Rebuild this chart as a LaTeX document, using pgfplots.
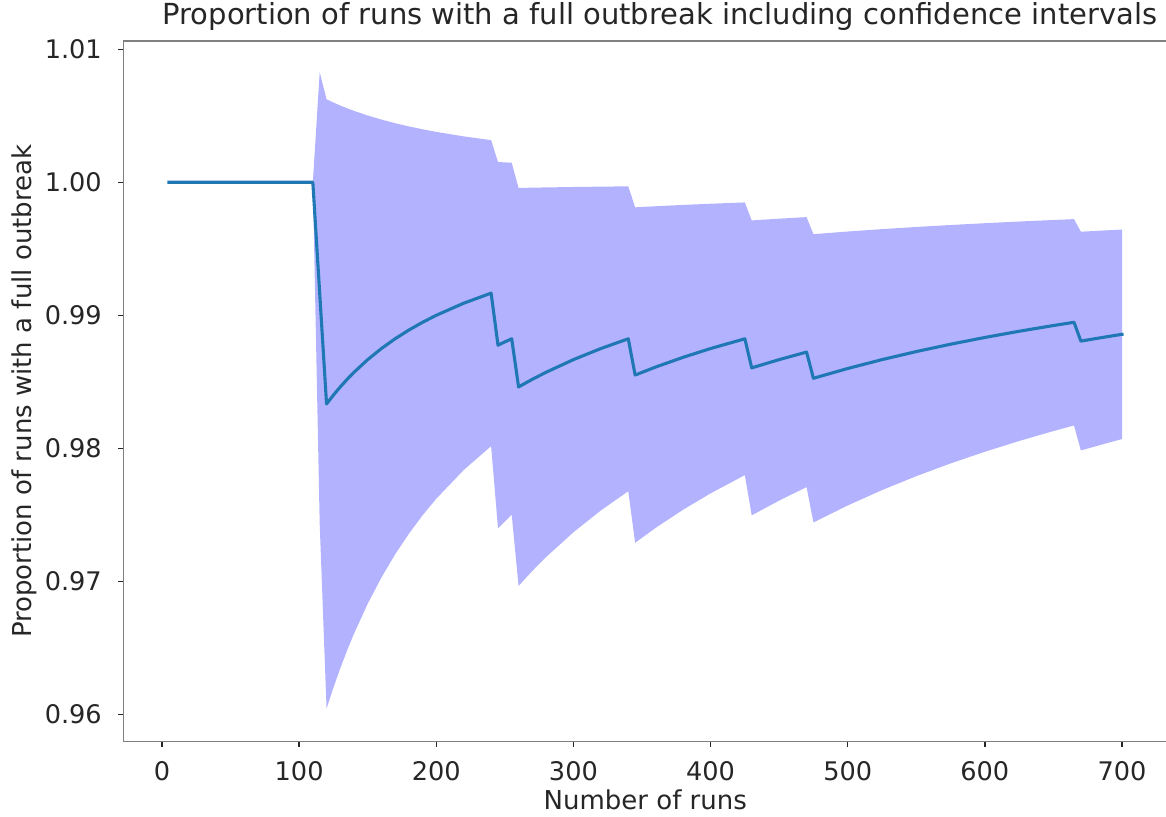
\documentclass[border=0pt]{standalone}
\usepackage{fontspec}
\setmainfont{DejaVu Sans}
\usepackage{pgfplots}
\usepackage{pgfplotstable}
\pgfplotsset{compat=1.18}
\usepgfplotslibrary{fillbetween}
\definecolor{tabblue}{HTML}{1F77B4}
\definecolor{txt}{HTML}{262626}
\definecolor{spine}{HTML}{808080}

\pgfplotstableread{
x p
5 1.0
110 1.0
120 0.983333
125 0.984
130 0.984615
135 0.985185
140 0.985714
150 0.986667
160 0.9875
170 0.988235
180 0.988889
190 0.989474
200 0.99
220 0.990909
240 0.991667
245 0.987755
250 0.988
255 0.988235
260 0.984615
270 0.985185
280 0.985714
300 0.986667
320 0.9875
340 0.988235
345 0.985507
360 0.986111
380 0.986842
400 0.9875
425 0.988235
430 0.986047
450 0.986667
470 0.987234
475 0.985263
500 0.986
525 0.986667
550 0.987273
575 0.987826
600 0.988333
625 0.9888
650 0.989231
665 0.989474
670 0.988060
685 0.988321
700 0.988571
}\proptable

\pgfplotstableread{
x u l
110 1.0 1.0
115 1.008275 0.974333
120 1.006240 0.960427
125 1.005997 0.962003
130 1.005773 0.963457
135 1.005565 0.964805
140 1.005371 0.966057
150 1.005022 0.968312
160 1.004715 0.970285
170 1.004444 0.972026
180 1.004202 0.973576
190 1.003986 0.974962
200 1.003790 0.976210
220 1.003451 0.978367
240 1.003168 0.980166
245 1.001527 0.973983
250 1.001498 0.974502
255 1.001470 0.975001
260 0.999576 0.969655
270 0.999596 0.970775
280 0.999614 0.971815
300 0.999646 0.973687
320 0.999673 0.975327
340 0.999696 0.976774
345 0.998118 0.972896
360 0.998200 0.974022
380 0.998299 0.975385
400 0.998388 0.976612
425 0.998486 0.977984
430 0.997134 0.974960
450 0.997265 0.976069
470 0.997383 0.977085
475 0.996099 0.974427
500 0.996298 0.975702
525 0.996478 0.976856
550 0.996641 0.977905
575 0.996789 0.978863
600 0.996925 0.979741
625 0.997050 0.980550
650 0.997166 0.981296
665 0.997231 0.981717
670 0.996285 0.979835
685 0.996367 0.980275
700 0.996445 0.980697
}\citable

\begin{document}
\begin{tikzpicture}
\begin{axis}[
  scale only axis,
  width=1044pt, height=700.5pt,
  xmin=-28.2, xmax=733,
  ymin=0.957955, ymax=1.010624,
  xtick={0,100,200,300,400,500,600,700},
  ytick={0.96,0.97,0.98,0.99,1.00,1.01},
  scaled y ticks=false,
  yticklabel style={xshift=-13pt, /pgf/number format/.cd,fixed,fixed zerofill,precision=2},
  xticklabel style={yshift=-11pt},
  /pgf/number format/assume math mode=true,
  axis line style={spine, line width=1.5pt},
  tick style={txt, line width=1.5pt},
  tick align=outside,
  major tick length=5pt,
  xtick pos=bottom, ytick pos=left,
  tick label style={font=\fontsize{25.6}{30}\selectfont, text=txt},
  label style={font=\fontsize{26}{31}\selectfont, text=txt},
  xlabel={Number of runs},
  ylabel={Proportion of runs with a full outbreak},
  xlabel style={at={(axis description cs:0.5,-0.0964)}, anchor=base},
  ylabel style={at={(axis description cs:-0.0875,0.5)}, anchor=base},
  title={Proportion of runs with a full outbreak including confidence intervals},
  title style={font=\fontsize{29}{34}\selectfont, text=txt, at={(axis description cs:0.514,1.0143)}, anchor=base},
]
\addplot[name path=up, draw=none, forget plot] table[x=x, y=u] {\citable};
\addplot[name path=lo, draw=none, forget plot] table[x=x, y=l] {\citable};
\addplot[fill=blue, fill opacity=0.3, draw=none] fill between[of=up and lo];
\addplot[tabblue, line width=3.1pt, line join=round, line cap=rect] table[x=x, y=p] {\proptable};
\end{axis}
\pgfresetboundingbox
\useasboundingbox (-123.3pt,-74.5pt) rectangle (1042.7pt,741.5pt);
\end{tikzpicture}
\end{document}
